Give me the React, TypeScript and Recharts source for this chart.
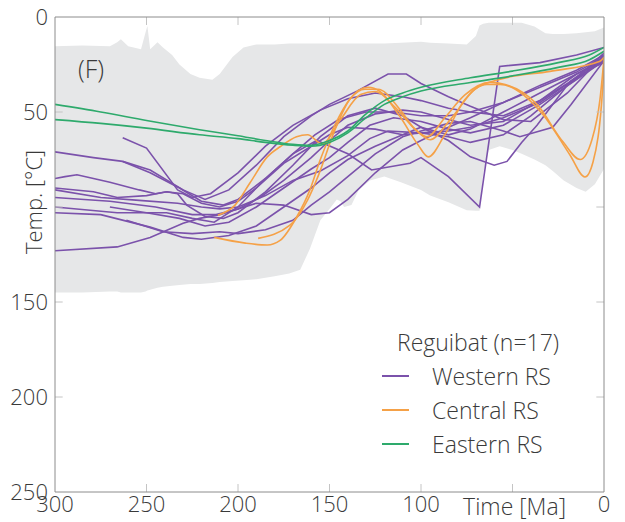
import { Area, ComposedChart, Label, Legend, Line, ReferenceLine, XAxis, YAxis } from "recharts";

type Pt = [number, number];

// labelled ticks (100 °C and 50 Ma are left unlabelled), plus all tick marks
const TIME_LABELS = [0, 100, 150, 200, 250, 300];
const TIME_MARKS = [50, 100, 150, 200, 250];
const TEMP_LABELS = [0, 50, 150, 200, 250];
const TEMP_MARKS = [50, 100, 150, 200];

// envelope of accepted paths: [time Ma, upper temp, lower temp]
const envelope: [number, number, number][] = [
  [300, 15.4, 145], [285, 15, 145], [270, 15.4, 144.5], [266, 13.3, 144.5], [264, 11.7, 145],
  [260, 15.4, 145], [257, 16, 145], [253, 17, 145], [250.5, 8, 144.5], [249.5, 4.8, 144],
  [248, 17, 143.5], [244, 13.3, 142.5], [241, 16, 142], [236, 20, 141.5], [232, 25, 141],
  [226, 30, 140.5], [221, 32, 140.5], [214, 33, 140], [210, 30, 139.5], [203, 21, 139],
  [197, 16, 138.5], [190, 14.5, 138], [180, 14.5, 136.5], [172, 14, 135], [166, 14, 133],
  [160.7, 14, 122], [155, 14, 107], [150, 14, 101], [146, 14, 96], [144, 14, 97],
  [142, 14, 100], [138, 14, 99], [134, 14, 91], [128, 14, 86], [120, 14, 84],
  [111, 13.5, 87], [100, 13, 91], [95, 13.5, 94], [85, 14, 97.5], [75, 14.5, 101.7],
  [70, 10, 102], [68, 4.5, 102], [66, 3.5, 82], [63, 3, 70], [57, 3, 68], [50, 3, 70],
  [45, 3, 72], [38, 5, 75], [32, 8.5, 78], [28, 9, 81], [22, 9, 86], [15, 8.5, 90],
  [10, 8, 92], [5, 7.5, 88], [0, 5.5, 80],
];

// Western RS paths [time, temp]
const w01: Pt[] = [[263, 63.5], [250, 69], [233, 91], [225, 95], [215, 93], [200, 82], [185, 68], [170, 57], [155, 49], [140, 43], [125, 40], [110, 42], [100, 44], [85, 48], [73, 50], [55, 52], [35, 44], [15, 32], [0, 19]];
const w02: Pt[] = [[300, 71], [279, 74], [263, 76], [248, 80.5], [230, 91], [218, 96], [205, 91], [190, 78], [175, 63], [160, 52], [150, 46], [135, 39], [118, 30], [108, 30], [100, 35], [85, 42], [73, 47], [55, 54], [40, 55], [20, 40], [0, 20]];
const w03: Pt[] = [[263, 76], [248, 82], [232, 90], [220, 97], [208, 99], [200, 96], [185, 85], [170, 72], [158, 62], [145, 54], [130, 50], [115, 50], [100, 52], [85, 52], [73, 50], [55, 45], [35, 37], [15, 29], [0, 21]];
const w04: Pt[] = [[300, 85], [294.5, 84], [288, 83], [279, 85], [270, 87], [254, 91], [245, 93], [239, 92], [233, 93], [228, 99], [218, 105], [208, 106], [200, 103], [185, 92], [170, 78], [155, 63], [140, 52], [125, 48], [110, 52], [100, 58], [85, 62], [73, 59], [55, 50], [35, 40], [15, 30], [0, 22]];
const w05: Pt[] = [[300, 90], [279, 92], [266, 95], [250, 94], [239, 92], [230, 93], [220, 98], [210, 100], [200, 97], [190, 90], [175, 77], [160, 68], [150, 62], [140, 58], [125, 59], [110, 62], [100, 61], [85, 60], [73, 58], [55, 53], [35, 45], [15, 32], [0, 23]];
const w06: Pt[] = [[300, 91], [275, 95], [254, 96.5], [233, 98], [220, 100], [210, 101], [200, 100], [185, 94], [170, 86], [155, 81], [140, 73], [128, 64], [118, 60], [100, 61], [85, 63], [73, 66], [55, 62], [40, 52], [20, 36], [0, 22]];
const w07: Pt[] = [[300, 100], [266, 103], [239, 103], [225, 106], [213, 108], [200, 100], [185, 85], [170, 72], [157, 65], [140, 72], [127, 80.5], [106, 77], [100, 74], [85, 84], [68, 100], [57, 26], [35, 24], [15, 20], [0, 16]];
const w08: Pt[] = [[300, 103], [275, 104], [248, 110.6], [230, 116], [220, 117], [205, 115], [190, 110], [175, 100], [160, 90], [150, 82], [140, 75], [125, 68], [110, 62], [100, 58], [85, 65], [73, 73.6], [60, 78], [53, 76], [45, 66], [36.6, 57], [18.6, 34], [0, 21]];
const w09: Pt[] = [[261, 107], [241, 113], [225, 114], [210, 113], [200, 114], [185, 112], [170, 107], [160, 99], [150, 92], [140, 84], [125, 72], [110, 63], [100, 60], [85, 56], [73, 55], [55, 60], [46, 63], [28, 58], [18, 46], [0, 23]];
const w10: Pt[] = [[300, 123], [266, 121], [248, 116], [230, 108.6], [221, 106], [210, 104], [200, 101], [190, 98], [175, 99], [160, 104], [150, 103], [140, 96], [125, 82], [110, 70], [100, 65], [85, 58], [73, 53], [55, 45], [35, 36], [15, 28], [0, 20]];
const w11: Pt[] = [[300, 95], [270, 97], [245, 100], [225, 104], [212, 104], [200, 101], [188, 95], [175, 86], [160, 74], [150, 65], [140, 57], [125, 51], [110, 49], [100, 50], [85, 54], [73, 57], [55, 55], [35, 44], [15, 30], [0, 24]];
const w12: Pt[] = [[270, 100], [250, 103], [232, 106], [218, 110], [205, 108], [190, 100], [175, 90], [160, 80], [150, 74], [140, 66], [128, 57], [115, 53], [100, 55], [85, 59], [73, 61], [55, 57], [35, 46], [15, 33], [0, 23]];

// Central RS paths
const c01: Pt[] = [[213, 116], [196, 119], [184, 120], [177, 117.6], [168, 105.4], [160.7, 91], [155, 75], [147, 56.7], [139, 43.4], [130.6, 38], [123.5, 38], [111.5, 48.7], [103, 59.3], [96.7, 63], [87, 53], [76, 41], [62.3, 34.4], [54, 35.5], [36.6, 46], [22.4, 65.7], [13, 75], [6.6, 64.6], [2.2, 43.4], [0, 22]];
const c02: Pt[] = [[189, 116.5], [171.6, 109.6], [162, 96.4], [156, 83.2], [147, 59.3], [139, 43.4], [129, 37], [122.4, 39.2], [111.5, 52.4], [101.6, 67.3], [96, 73.6], [87, 62], [76, 43.4], [64, 35.5], [56.8, 35.5], [33.3, 51.4], [18.6, 72.6], [10.4, 84.2], [6, 76.3], [0.5, 34], [0, 22]];
const c03: Pt[] = [[211, 104.3], [201.6, 99], [193.5, 87.4], [184, 73.6], [177, 68.3], [168, 63], [162, 62], [154, 66.8], [144, 54], [133, 40.8], [125, 39.2], [114, 47.7], [103, 59.3], [95, 64.6], [84, 54], [70.5, 38], [56.8, 32.8], [29.5, 28.6], [2.2, 23.3], [0, 21.2]];

// Eastern RS paths
const e01: Pt[] = [[300, 46], [275, 50], [250, 54.5], [221, 59.3], [200, 62.5], [185, 65], [170, 67], [160, 67.5], [150, 65], [140, 60], [130, 51], [120, 44], [110, 40], [100, 37], [73, 32], [50, 28.5], [25, 24], [8, 20], [0, 16]];
const e02: Pt[] = [[300, 54], [275, 56], [250, 58.5], [221, 62], [200, 64], [185, 66], [170, 67.5], [160, 68], [150, 66], [140, 61], [130, 53], [120, 46], [110, 42], [100, 39], [73, 34.5], [50, 31], [25, 26.5], [8, 22.5], [0, 18]];

const WESTERN = [w01, w02, w03, w04, w05, w06, w07, w08, w09, w10, w11, w12];
const CENTRAL = [c01, c02, c03];
const EASTERN = [e01, e02];

const GROUP_NAMES = ["Western RS", "Central RS", "Eastern RS"];
const PURPLE = "#7b52ab";
const ORANGE = "#f5a147";
const GREEN = "#2eaa6c";
const GROUP_COLORS = [PURPLE, ORANGE, GREEN];

const BAND = "#e6e7e8";
const AXIS = "#8c8c8c";
const TICK_MARK = "#c4c4c4";
const TEXT = "#3a3a3a";
const FONT = "'Open Sans', sans-serif";

// inner tick mark length in axis units
const MARK_T = 4.2;
const MARK_TEMP = 4.2;

const toRows = (path: Pt[]) => path.map(([t, temp]) => ({ t, temp }));
const bandRows = envelope.map(([t, top, bottom]) => ({ t, band: [top, bottom] }));

const renderLegend = () => (
  <div style={{ fontFamily: FONT, fontWeight: 300, fontSize: 23, color: TEXT }}>
    <div style={{ height: 34, lineHeight: "34px", paddingLeft: 15 }}>Reguibat (n=17)</div>
    {GROUP_NAMES.map((name, i) => (
      <div key={name} style={{ display: "flex", alignItems: "center", height: 34 }}>
        <span style={{ display: "inline-block", width: 27, height: 2, background: GROUP_COLORS[i], marginRight: 23 }} />
        {name}
      </div>
    ))}
  </div>
);

const drawLine = (path: Pt[], key: string, color: string, curve: "linear" | "monotone") => (
  <Line
    key={key}
    data={toRows(path)}
    dataKey="temp"
    xAxisId="t"
    yAxisId="T"
    type={curve}
    stroke={color}
    strokeWidth={1.6}
    dot={false}
    activeDot={false}
    legendType="none"
    isAnimationActive={false}
  />
);

const mark = (key: string, a: { x: number; y: number }, b: { x: number; y: number }) => (
  <ReferenceLine key={key} xAxisId="t" yAxisId="T" segment={[a, b]} stroke={TICK_MARK} ifOverflow="visible" />
);

const tickFont = { fill: TEXT, fontSize: 22, fontFamily: FONT, fontWeight: 300 };

export default function App() {
  return (
    <div style={{ position: "absolute", left: 0, top: 0 }}>
      <ComposedChart width={625} height={522} margin={{ top: 17, right: 21, bottom: 0, left: 0 }}>
        <XAxis
          xAxisId="t"
          dataKey="t"
          type="number"
          domain={[0, 300]}
          allowDataOverflow
          reversed
          ticks={TIME_LABELS}
          interval={0}
          height={30}
          tickLine={false}
          tickSize={0}
          tickMargin={4}
          axisLine={{ stroke: AXIS }}
          tick={tickFont}
        >
          <Label
            content={({ viewBox }: any) => (
              <text
                x={viewBox.x + viewBox.width - 38}
                y={viewBox.y + 23}
                textAnchor="end"
                fill={TEXT}
                fontSize={23}
                fontFamily={FONT}
                fontWeight={300}
              >
                Time [Ma]
              </text>
            )}
          />
        </XAxis>
        <YAxis
          yAxisId="T"
          type="number"
          domain={[0, 250]}
          allowDataOverflow
          reversed
          ticks={TEMP_LABELS}
          interval={0}
          width={55}
          tickLine={false}
          tickSize={0}
          tickMargin={7}
          axisLine={{ stroke: AXIS }}
          tick={tickFont}
        >
          <Label
            content={({ viewBox }: any) => {
              const cx = viewBox.x + 33;
              const cy = viewBox.y + 185;
              return (
                <text
                  x={cx}
                  y={cy}
                  transform={`rotate(-90 ${cx} ${cy})`}
                  textAnchor="middle"
                  dominantBaseline="central"
                  fill={TEXT}
                  fontSize={22}
                  fontFamily={FONT}
                  fontWeight={300}
                >
                  Temp. [°C]
                </text>
              );
            }}
          />
        </YAxis>
        <Legend
          layout="vertical"
          align="center"
          verticalAlign="middle"
          wrapperStyle={{ left: 382, top: 325, width: 235 }}
          content={renderLegend}
        />
        <Area
          data={bandRows}
          dataKey="band"
          xAxisId="t"
          yAxisId="T"
          type="linear"
          stroke="none"
          fill={BAND}
          fillOpacity={1}
          dot={false}
          activeDot={false}
          legendType="none"
          isAnimationActive={false}
        />
        {WESTERN.map((p, i) => drawLine(p, `w${i}`, PURPLE, "linear"))}
        {CENTRAL.map((p, i) => drawLine(p, `c${i}`, ORANGE, "monotone"))}
        {EASTERN.map((p, i) => drawLine(p, `e${i}`, GREEN, "monotone"))}

        {/* inner tick marks on all four sides */}
        {TIME_MARKS.map((t) => mark(`tt${t}`, { x: t, y: 0 }, { x: t, y: MARK_TEMP }))}
        {TIME_MARKS.map((t) => mark(`tb${t}`, { x: t, y: 250 }, { x: t, y: 250 - MARK_TEMP }))}
        {TEMP_MARKS.map((v) => mark(`yl${v}`, { x: 300, y: v }, { x: 300 - MARK_T, y: v }))}
        {TEMP_MARKS.map((v) => mark(`yr${v}`, { x: 0, y: v }, { x: MARK_T, y: v }))}

        {/* closing frame: top and right edges */}
        <ReferenceLine xAxisId="t" yAxisId="T" y={0} stroke={AXIS} ifOverflow="visible">
          <Label
            content={({ viewBox }: any) => (
              <text x={viewBox.x + 23} y={viewBox.y + 61} fill={TEXT} fontSize={25} fontFamily={FONT} fontWeight={300}>
                (F)
              </text>
            )}
          />
        </ReferenceLine>
        <ReferenceLine xAxisId="t" yAxisId="T" x={0} stroke={AXIS} ifOverflow="visible" />
      </ComposedChart>
    </div>
  );
}
